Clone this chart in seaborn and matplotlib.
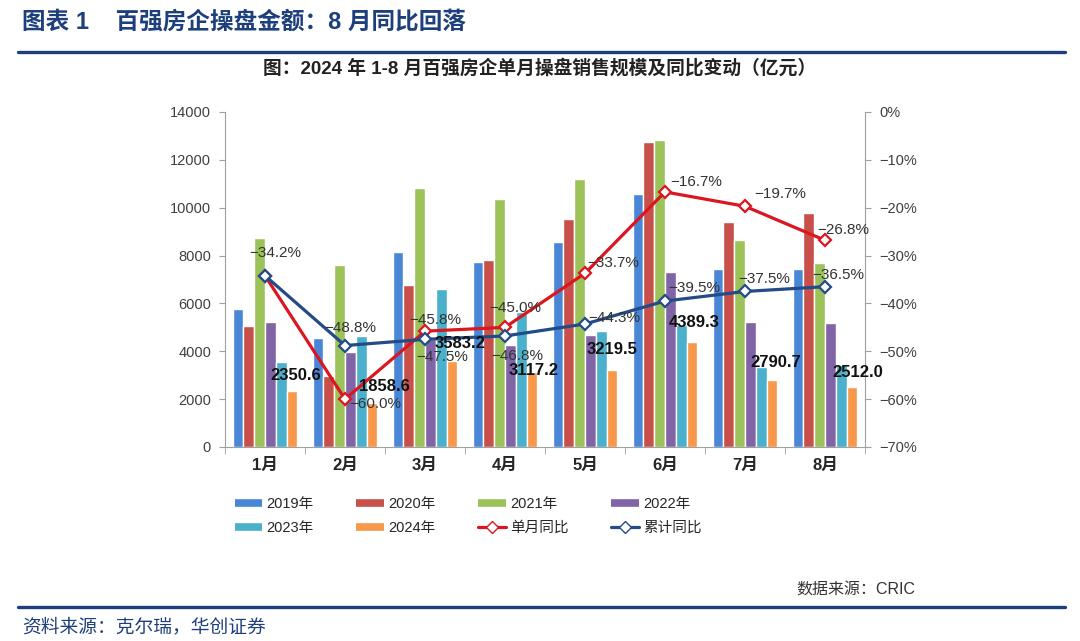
import matplotlib
matplotlib.use("Agg")
import matplotlib.pyplot as plt
import numpy as np
import pandas as pd
import seaborn as sns
from matplotlib.lines import Line2D

# Data (亿元 / %)
months = ["1月", "2月", "3月", "4月", "5月", "6月", "7月", "8月"]
years = ["2019年", "2020年", "2021年", "2022年", "2023年", "2024年"]

y2019 = [5770, 4540, 8160, 7740, 8560, 10560, 7440, 7440]
y2020 = [5070, 2950, 6770, 7810, 9510, 12760, 9390, 9760]
y2021 = [8720, 7600, 10820, 10350, 11190, 12830, 8650, 7700]
y2022 = [5230, 3990, 4500, 4260, 4700, 7330, 5210, 5170]
y2023 = [3540, 4640, 6590, 5650, 4850, 5100, 3360, 3430]
y2024 = [2350.6, 1858.6, 3583.2, 3117.2, 3219.5, 4389.3, 2790.7, 2512.0]

single_yoy = [-34.2, -60.0, -45.8, -45.0, -33.7, -16.7, -19.7, -26.8]
cum_yoy = [-34.2, -48.8, -47.5, -46.8, -44.3, -39.5, -37.5, -36.5]

right_ticks = [0, -10, -20, -30, -40, -50, -60, -70]

# label offsets in pixels (dx right, dy down)
single_offsets = [(10, -23), (30, 5), (10, -11), (10, -19),
                  (28, -10), (31, -10), (35, -12), (18, -10)]
cum_offsets = [None, (5, -18), (17, 18), (12, 20),
               (29, -6), (29, -13), (19, -12), (13, -12)]
bar_label_offsets = [(4, -15), (12, -16), (8, -18), (2, -2),
                     (0, -20), (2, -19), (4, -18), (6, -14)]

bar_colors = ["#4a86d6", "#c8504b", "#9cc35a", "#8064a6", "#4bb0cc", "#f7984a"]
red = "#dc1620"
navy = "#234b87"
title_blue = "#1d3f7c"

sns.set_style("white")
plt.rcParams["font.family"] = ["Liberation Sans", "Noto Sans CJK SC"]
plt.rcParams["axes.unicode_minus"] = True

df = pd.DataFrame({
    "月份": np.tile(months, len(years)),
    "年份": np.repeat(years, len(months)),
    "金额": np.concatenate([y2019, y2020, y2021, y2022, y2023, y2024]),
})

fig = plt.figure(figsize=(10.8, 6.41), dpi=100)
ax = fig.add_axes([225 / 1080, 1 - 447 / 641, 640 / 1080, 335 / 641])

sns.barplot(
    data=df, x="月份", y="金额", hue="年份",
    palette=bar_colors, width=0.81, saturation=1,
    legend=False, ax=ax
)

ax.set_xlim(-0.5, len(months) - 0.5)
ax.set_ylim(0, 14000)
ax.set_yticks(range(0, 14001, 2000))
ax.set_xlabel("")
ax.set_ylabel("")
ax.tick_params(axis="y", labelsize=10.5, labelcolor="#404040",
               left=True, length=4, color="#a0a0a0", pad=6)
ax.tick_params(axis="x", length=0, pad=8)
for lab in ax.get_xticklabels():
    lab.set_fontweight("bold")
    lab.set_fontsize(12)
ax.set_xticks(np.arange(-0.5, len(months), 1), minor=True)
ax.tick_params(axis="x", which="minor", length=5, color="#a0a0a0", bottom=True)
for side in ["left", "bottom"]:
    ax.spines[side].set_color("#a0a0a0")
ax.spines["top"].set_visible(False)
ax.spines["right"].set_visible(False)

# Right axis: YoY lines
ax2 = ax.twinx()
pos = np.arange(len(months))
sns.lineplot(x=pos, y=single_yoy, ax=ax2, color=red, lw=2.3,
             marker="D", markersize=6.5, markerfacecolor="white",
             markeredgecolor=red, markeredgewidth=1.6)
sns.lineplot(x=pos, y=cum_yoy, ax=ax2, color=navy, lw=2.3,
             marker="D", markersize=6.5, markerfacecolor="white",
             markeredgecolor=navy, markeredgewidth=1.6)
ax2.set_ylim(-70, 0)
ax2.set_yticks(right_ticks)
ax2.set_yticklabels([f"{t}%".replace("-", "\u2212") for t in right_ticks])
ax2.tick_params(axis="y", labelsize=10.5, labelcolor="#404040",
                right=True, length=4, color="#a0a0a0", pad=6)
ax2.spines["right"].set_color("#a0a0a0")
for side in ["left", "bottom", "top"]:
    ax2.spines[side].set_visible(False)

# Percentage labels
for i, (v, off) in enumerate(zip(single_yoy, single_offsets)):
    ax2.annotate(f"{v:.1f}%".replace("-", "\u2212"), (i, v),
                 xytext=(off[0] * 0.72, -off[1] * 0.72),
                 textcoords="offset points", ha="center", va="center",
                 fontsize=11, color="#333333")
for i, (v, off) in enumerate(zip(cum_yoy, cum_offsets)):
    if off is None:
        continue
    ax2.annotate(f"{v:.1f}%".replace("-", "\u2212"), (i, v),
                 xytext=(off[0] * 0.72, -off[1] * 0.72),
                 textcoords="offset points", ha="center", va="center",
                 fontsize=11, color="#333333")

# 2024 bar value labels
for bar, v, off in zip(ax.containers[-1], y2024, bar_label_offsets):
    xc = bar.get_x() + bar.get_width() / 2
    ax2.annotate(f"{v:.1f}", (xc, v), xycoords=ax.transData,
                 xytext=(off[0] * 0.72, -off[1] * 0.72),
                 textcoords="offset points",
                 ha="center", va="center", fontsize=12,
                 fontweight="bold", color="#111111")

# Legend
bar_handles = [Line2D([0], [0], color=c, lw=5.5, solid_capstyle="butt")
               for c in bar_colors]
line_red = Line2D([0], [0], color=red, lw=2.3, marker="D", markersize=6,
                  markerfacecolor="white", markeredgecolor=red)
line_navy = Line2D([0], [0], color=navy, lw=2.3, marker="D", markersize=6,
                   markerfacecolor="white", markeredgecolor=navy)
handles = [bar_handles[0], bar_handles[4], bar_handles[1], bar_handles[5],
           bar_handles[2], line_red, bar_handles[3], line_navy]
labels = [years[0], years[4], years[1], years[5],
          years[2], "单月同比", years[3], "累计同比"]
fig.legend(handles, labels, ncol=4, loc="center",
           bbox_to_anchor=(468 / 1080, 1 - 516 / 641), frameon=False,
           fontsize=10.5, handlelength=1.9, handletextpad=0.3,
           columnspacing=2.9, labelspacing=0.7)

# Titles and footer
fig.text(22 / 1080, 1 - 22 / 641, "图表 1    百强房企操盘金额：8 月同比回落",
         fontsize=17, fontweight="bold", color=title_blue,
         ha="left", va="center")
fig.add_artist(Line2D([18 / 1080, 1065 / 1080], [1 - 52 / 641, 1 - 52 / 641],
                      transform=fig.transFigure, color=title_blue, lw=2.4))
fig.text(540 / 1080, 1 - 68 / 641,
         "图：2024 年 1-8 月百强房企单月操盘销售规模及同比变动（亿元）",
         fontsize=13.5, fontweight="bold", color="#222222",
         ha="center", va="center")
fig.text(915 / 1080, 1 - 590 / 641, "数据来源：CRIC",
         fontsize=11.5, color="#333333", ha="right", va="center")
fig.add_artist(Line2D([18 / 1080, 1065 / 1080], [1 - 607 / 641, 1 - 607 / 641],
                      transform=fig.transFigure, color=title_blue, lw=2.4))
fig.text(22 / 1080, 1 - 627 / 641, "资料来源：克尔瑞，华创证券",
         fontsize=13.5, style="italic", color=title_blue,
         ha="left", va="center")

fig.savefig("out.png", dpi=100)
